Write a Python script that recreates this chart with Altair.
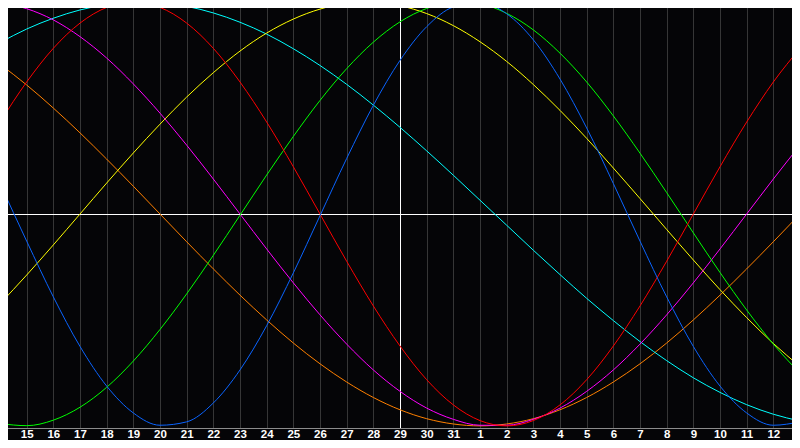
import altair as alt
import pandas as pd

day_labels = ["", "15", "16", "17", "18", "19", "20", "21", "22", "23", "24", "25", "26",
              "27", "28", "29", "30", "31", "1", "2", "3", "4", "5", "6", "7", "8", "9",
              "10", "11", "12", ""]
day_index = list(range(31))
center_day = 15

blue = [0.144, -0.128, -0.391, -0.625, -0.812, -0.939, -0.997, -0.981, -0.892, -0.736, -0.527,
        -0.278, -0.008, 0.262, 0.513, 0.725, 0.884, 0.977, 0.998, 0.945, 0.822, 0.637, 0.406,
        0.144, -0.128, -0.391, -0.625, -0.812, -0.939, -0.997, -0.981]
red = [0.434, 0.623, 0.782, 0.901, 0.975, 1.0, 0.975, 0.901, 0.782, 0.623, 0.434, 0.223, 0.0,
       -0.223, -0.434, -0.623, -0.782, -0.901, -0.975, -1.0, -0.975, -0.901, -0.782, -0.623,
       -0.434, -0.223, 0.0, 0.223, 0.434, 0.623, 0.782]
green = [-0.989, -0.999, -0.973, -0.912, -0.818, -0.694, -0.545, -0.377, -0.195, -0.006, 0.184,
         0.366, 0.536, 0.686, 0.811, 0.907, 0.970, 0.999, 0.991, 0.947, 0.869, 0.759, 0.623,
         0.463, 0.287, 0.101, -0.089, -0.276, -0.453, -0.614, -0.752]
magenta = [0.997, 0.969, 0.916, 0.837, 0.736, 0.614, 0.476, 0.325, 0.165, 0.0, -0.165, -0.325,
           -0.476, -0.614, -0.736, -0.837, -0.916, -0.969, -0.997, -0.997, -0.969, -0.916,
           -0.837, -0.736, -0.614, -0.476, -0.325, -0.165, 0.0, 0.165, 0.325]
yellow = [-0.424, -0.288, -0.146, 0.0, 0.146, 0.288, 0.424, 0.552, 0.667, 0.769, 0.854, 0.92,
          0.967, 0.994, 0.999, 0.983, 0.946, 0.889, 0.813, 0.72, 0.611, 0.489, 0.357, 0.217,
          0.073, -0.073, -0.217, -0.357, -0.489, -0.611, -0.72]
orange = [0.707, 0.609, 0.5, 0.383, 0.259, 0.131, 0.0, -0.131, -0.259, -0.383, -0.5, -0.609,
          -0.707, -0.793, -0.866, -0.924, -0.966, -0.991, -1.0, -0.991, -0.966, -0.924, -0.866,
          -0.793, -0.707, -0.609, -0.5, -0.383, -0.259, -0.131, 0.0]
cyan = [0.809, 0.873, 0.924, 0.963, 0.988, 0.999, 0.997, 0.98, 0.949, 0.905, 0.849, 0.78, 0.701,
        0.612, 0.514, 0.409, 0.298, 0.183, 0.065, -0.053, -0.171, -0.286, -0.398, -0.503,
        -0.602, -0.692, -0.773, -0.842, -0.9, -0.945, -0.977]

series = {"orange": orange, "cyan": cyan, "yellow": yellow, "magenta": magenta,
          "green": green, "red": red, "blue": blue}
colors = {"orange": "#ff8000", "cyan": "#00ffff", "yellow": "#ffff00", "magenta": "#ff00ff",
          "green": "#00ff00", "red": "#ff0000", "blue": "#0a64ff"}

rows = []
for name, vs in series.items():
    for t, v in zip(day_index, vs):
        rows.append({"t": t, "v": v, "s": name})
df = pd.DataFrame(rows)

label_expr = "".join("datum.value == %d ? '%s' : " % (i, s) for i, s in zip(day_index, day_labels) if s) + "''"

xs = alt.Scale(domain=[0, 30], nice=False, zero=False)
ys = alt.Scale(domain=[-1.01, 1.01], nice=False, zero=False)

x_axis = alt.Axis(values=day_index, labelExpr=label_expr, title=None, grid=True,
                  gridColor={"condition": {"test": "datum.value == %d" % center_day, "value": "#ffffff"},
                             "value": "#363636"},
                  ticks=False, domainColor="#8c8c8c", labelColor="white",
                  labelFont="Liberation Sans", labelFontWeight="bold", labelFontSize=11.5,
                  labelPadding=0)
y_axis = alt.Axis(values=[0], grid=True, gridColor="#ffffff", labels=False, ticks=False,
                  domain=False, title=None)

chart = alt.Chart(df).mark_line(strokeWidth=1, interpolate="monotone").encode(
    x=alt.X("t:Q", scale=xs, axis=x_axis),
    y=alt.Y("v:Q", scale=ys, axis=y_axis),
    color=alt.Color("s:N", scale=alt.Scale(domain=list(colors), range=list(colors.values())),
                    legend=None),
).properties(
    width=800, height=428, background="#050507",
    autosize=alt.AutoSizeParams(type="none"),
    padding={"left": -8, "top": -8, "right": -8, "bottom": 12}
).configure_view(strokeWidth=0, fill="#050507")
chart.save("out.html", embed_options={"renderer": "svg", "actions": False})
